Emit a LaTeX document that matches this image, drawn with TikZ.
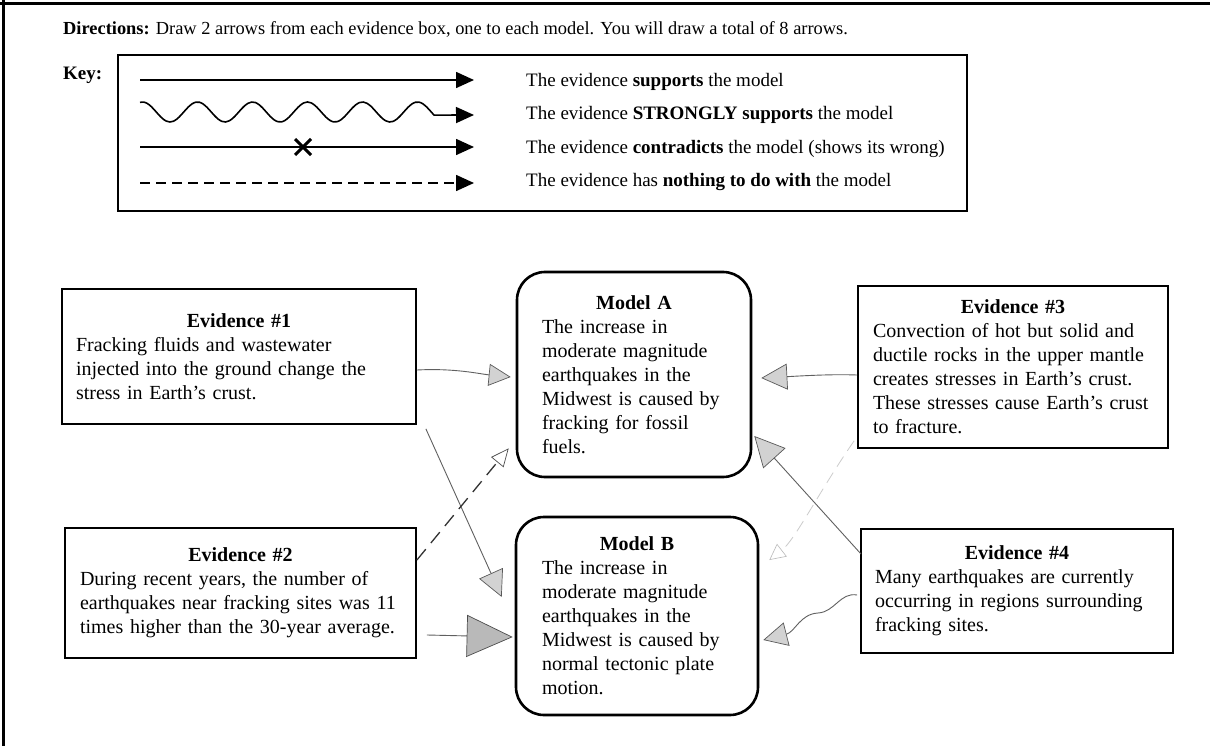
\documentclass[tikz,border=0pt]{standalone}
\usepackage{fontspec}
\setmainfont{Liberation Serif}
\usetikzlibrary{arrows.meta}
\newcommand{\bl}[1]{\mbox{#1}}
\begin{document}
\begin{tikzpicture}[x=1pt,y=-1pt,
  box/.style={draw=black, line width=1.8pt, align=left, inner ysep=0pt,
    font=\fontsize{20}{24}\selectfont},
  modbox/.style={box, rounded corners=28pt, line width=2.6pt},
  keyline/.style={line width=1.6pt, -{Triangle[length=18pt,width=16pt]}},
  keytext/.style={anchor=west, inner sep=0pt, font=\fontsize{19}{22}\selectfont},
  pencil/.style={draw=gray!75!black, line width=0.9pt},
  phead/.style={-{Triangle[length=#1,width=#1,fill=gray!35,color=gray!70!black,line width=0.7pt]}},
  pdash/.style={dash pattern=on 14pt off 8pt},
]
\fill[white] (0,0) rectangle (1210,746);
\useasboundingbox (0,0) rectangle (1210,746);
% page border
\draw[line width=3pt] (0,4) -- (1210,4);
\draw[line width=3pt] (3,0) -- (3,746);

% directions
\node[anchor=west, inner sep=0pt, font=\fontsize{18.4}{22}\selectfont] (dir) at (63,29)
  {\textbf{Directions:} Draw 2 arrows from each evidence box, one to each model. You will draw a total of 8 arrows.};
\node[anchor=west, inner sep=0pt, font=\fontsize{19}{22}\selectfont\bfseries] (keylab) at (63,75) {Key:};

% key box
\node[draw, line width=1.8pt, minimum width=849pt, minimum height=156pt, inner sep=0pt] (keybox) at (542.5,133) {};
\coordinate (k1s) at (140,80);  \coordinate (k1e) at (474,80);
\coordinate (k2e) at (474,115);
\coordinate (k3s) at (140,147); \coordinate (k3e) at (474,147);
\coordinate (k4s) at (140,183); \coordinate (k4e) at (474,183);
\draw[keyline] (k1s) -- (k1e);
\draw[keyline] plot[smooth, domain=140:434, samples=80] (\x,{112+10*sin(6.5455*(\x-156.25))}) -- (k2e);
\draw[keyline] (k3s) -- (k3e);
\draw[line width=3pt] (295,139) -- (311,155) (295,155) -- (311,139);
\draw[keyline, dash pattern=on 10pt off 6pt] (k4s) -- (k4e);
\node[keytext] (t1) at (526,82) {The evidence \textbf{supports} the model};
\node[keytext] (t2) at (526,115) {The evidence \textbf{STRONGLY supports} the model};
\node[keytext] (t3) at (526,149) {The evidence \textbf{contradicts} the model (shows its wrong)};
\node[keytext] (t4) at (526,182) {The evidence has \textbf{nothing to do with} the model};

% evidence boxes
\node[box, minimum width=354pt, minimum height=135pt, text width=326pt, inner xsep=14pt] (e1) at (239,356.5)
  {\makebox[\linewidth]{\textbf{Evidence \#1}}\\
   \bl{Fracking fluids and wastewater}\\
   \bl{injected into the ground change the}\\
   \bl{stress in Earth’s crust.}};
\node[box, minimum width=351pt, minimum height=130pt, text width=321pt, inner xsep=15pt] (e2) at (240.5,593)
  {\makebox[\linewidth]{\textbf{Evidence \#2}}\\
   \bl{During recent years, the number of}\\
   \bl{earthquakes near fracking sites was 11}\\
   \bl{times higher than the 30-year average.}};
\node[box, minimum width=310pt, minimum height=162pt, text width=280pt, inner xsep=15pt] (e3) at (1013,367)
  {\makebox[\linewidth]{\textbf{Evidence \#3}}\\
   \bl{Convection of hot but solid and}\\
   \bl{ductile rocks in the upper mantle}\\
   \bl{creates stresses in Earth’s crust.}\\
   \bl{These stresses cause Earth’s crust}\\
   \bl{to fracture.}};
\node[box, minimum width=312pt, minimum height=124pt, text width=284pt, inner xsep=14pt] (e4) at (1017,591)
  {\makebox[\linewidth]{\textbf{Evidence \#4}}\\
   \bl{Many earthquakes are currently}\\
   \bl{occurring in regions surrounding}\\
   \bl{fracking sites.}};

% model boxes
\node[modbox, minimum width=234pt, minimum height=205pt, text width=184pt, inner xsep=25pt] (mA) at (634,374.5)
  {\makebox[\linewidth]{\textbf{Model A}}\\
   \bl{The increase in}\\
   \bl{moderate magnitude}\\
   \bl{earthquakes in the}\\
   \bl{Midwest is caused by}\\
   \bl{fracking for fossil}\\
   \bl{fuels.}};
\node[modbox, minimum width=242pt, minimum height=198pt, text width=190pt, inner xsep=26pt] (mB) at (637,616)
  {\makebox[\linewidth]{\textbf{Model B}}\\
   \bl{The increase in}\\
   \bl{moderate magnitude}\\
   \bl{earthquakes in the}\\
   \bl{Midwest is caused by}\\
   \bl{normal tectonic plate}\\
   \bl{motion.}};

% hand-drawn connectors
% E1 -> A (supports)
\draw[pencil, phead=22pt] ([yshift=-13.5pt]e1.east) .. controls (455,368) and (480,374) .. ([xshift=-5pt,yshift=-2.5pt]mA.west);
% E1 -> B (supports)
\draw[pencil, phead=26pt] ([xshift=9pt,yshift=-4pt]e1.south east) -- ([xshift=-13pt,yshift=19pt]mB.west);
% E2 -> A (nothing to do with)
\draw[pencil, draw=gray!40!black, line width=1.3pt, pdash,
  -{Triangle[open,length=18pt,width=16pt,color=gray!60!black,line width=0.7pt]}]
  ([yshift=33pt]e2.east) -- ([xshift=-7pt,yshift=30pt]mA.south west);
% E2 -> B (supports, heavy head)
\draw[pencil, -{Triangle[length=46pt,width=42pt,fill=gray!55,color=gray!60!black,line width=0.7pt]}]
  ([xshift=10pt,yshift=-42pt]e2.east) -- ([xshift=-2pt,yshift=-21pt]mB.west);
% E3 -> A (supports)
\draw[pencil, phead=26pt] ([yshift=-8pt]e3.west) .. controls (830,374) and (800,376) .. ([xshift=9pt,yshift=-3.5pt]mA.east);
% E3 -> B (nothing to do with, faint)
\draw[draw=gray!40, line width=0.8pt, dash pattern=on 12pt off 7pt,
  -{Triangle[open,length=16pt,width=16pt,color=gray!55,line width=0.6pt]}]
  ([xshift=-3pt,yshift=8pt]e3.south west) .. controls (820,490) and (795,540) .. ([xshift=10pt,yshift=56pt]mB.east);
% E4 -> A (supports)
\draw[pencil, phead=30pt] ([xshift=1pt,yshift=-26pt]e4.north west) -- ([xshift=2pt,yshift=-61.5pt]mA.east);
% E4 -> B (strongly supports, wavy)
\draw[pencil, phead=24pt] ([xshift=-3pt,yshift=-4pt]e4.west)
  .. controls (840,592) and (835,612) .. (818,613)
  .. controls (800,614) and (795,632) .. ([xshift=4pt,yshift=-24pt]mB.east);
\end{tikzpicture}
\end{document}
